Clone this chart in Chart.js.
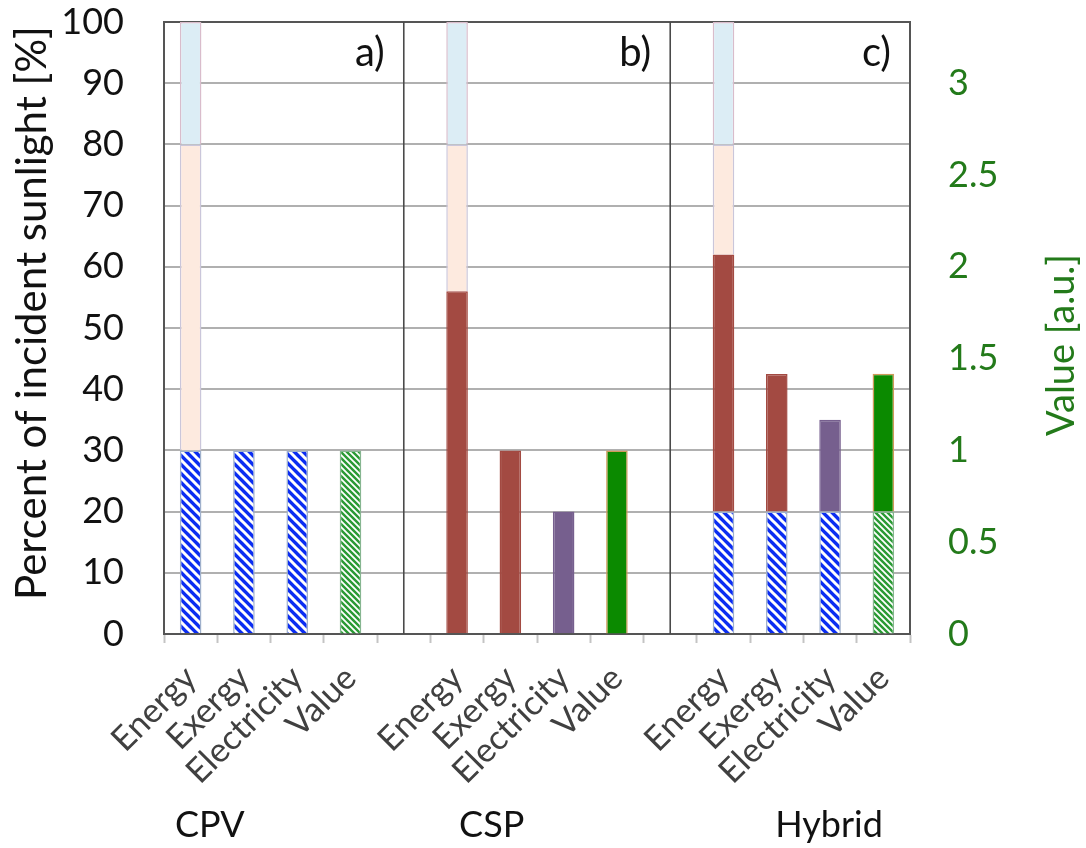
<!DOCTYPE html>
<html>
<head>
<meta charset="utf-8">
<script src="https://cdn.jsdelivr.net/npm/chart.js@4.4.0/dist/chart.umd.min.js"></script>
<style>
html,body{margin:0;padding:0;background:#fff;}
#wrap{width:1086px;height:848px;position:relative;}
</style>
</head>
<body>
<div id="wrap"><canvas id="c" width="1086" height="848"></canvas></div>
<script>
// ---------- data ----------
const categories = ['Energy','Exergy','Electricity','Value','',
                    'Energy','Exergy','Electricity','Value','',
                    'Energy','Exergy','Electricity','Value'];
const groupNames = ['CPV','CSP','Hybrid'];
const panelTags = ['a)','b)','c)'];
// percent of incident sunlight (left axis)
const pvShare       = [30,30,30,null,null, null,null,null,null,null, 20,20,20,null];
const thermalShare  = [null,null,null,null,null, 56,30,null,null,null, 42,22.5,null,null];
const electricShare = [null,null,null,null,null, null,null,20,null,null, null,null,15,null];
const lossShare     = [50,null,null,null,null, 24,null,null,null,null, 18,null,null,null];
const reflectShare  = [20,null,null,null,null, 20,null,null,null,null, 20,null,null,null];
// value (right axis, a.u.)
const valuePV       = [null,null,null,1,null, null,null,null,null,null, null,null,null,0.667];
const valueThermal  = [null,null,null,null,null, null,null,null,1,null, null,null,null,0.75];
const leftTicks = {min:0, max:100, step:10};
const rightTicks = {min:0, max:100/30, step:0.5};
const leftTitle = 'Percent of incident sunlight [%]';
const rightTitle = 'Value [a.u.]';

// ---------- styling ----------
const FONT = 'Lato, "Open Sans", sans-serif';
const GREEN_TXT = '#237a1a';
const mainCtx = document.getElementById('c').getContext('2d');
function hatch(bg, fg, size, w) {
  const t = document.createElement('canvas');
  t.width = size; t.height = size;
  const g = t.getContext('2d');
  g.fillStyle = bg; g.fillRect(0,0,size,size);
  g.strokeStyle = fg; g.lineWidth = w; g.lineCap = 'square';
  g.beginPath();
  for (const k of [-1,0,1]) { g.moveTo(k*size - 2, -2); g.lineTo(k*size + size + 2, size + 2); }
  g.stroke();
  return mainCtx.createPattern(t, 'repeat');
}
const blueHatch = hatch('#0b2df2', '#ffffff', 9, 3);
const greenHatch = hatch('#2a9a34', '#ffffff', 6, 1.8);

const annot = {
  id: 'annot',
  beforeDatasetsDraw(chart) {
    const {ctx, chartArea: a, scales: {x}} = chart;
    ctx.save();
    ctx.strokeStyle = '#4a4a4a'; ctx.lineWidth = 1.6;
    categories.forEach((c, i) => {
      if (c === '') {
        const px = x.getPixelForValue(i);
        ctx.beginPath(); ctx.moveTo(px, a.top); ctx.lineTo(px, a.bottom); ctx.stroke();
      }
    });
    ctx.restore();
  },
  afterDraw(chart) {
    const {ctx, chartArea: a, scales: {x}} = chart;
    ctx.save();
    const seps = [];
    categories.forEach((c, i) => { if (c === '') seps.push(x.getPixelForValue(i)); });
    const edges = [...seps, a.right];
    ctx.fillStyle = '#111';
    ctx.font = '40px ' + FONT;
    ctx.textAlign = 'right'; ctx.textBaseline = 'alphabetic';
    panelTags.forEach((t, i) => ctx.fillText(t, edges[i] - 19, a.top + 44));
    // group names
    const groupPos = [0.36, 5.65, 11.98];
    ctx.font = '36px ' + FONT;
    ctx.textAlign = 'center';
    groupNames.forEach((g, i) => ctx.fillText(g, x.getPixelForValue(groupPos[i]), chart.height - 11));
    // left axis title
    ctx.save();
    ctx.font = '42px ' + FONT;
    ctx.fillStyle = '#111';
    ctx.translate(32, (a.top + a.bottom) / 2 - 15);
    ctx.rotate(-Math.PI / 2);
    ctx.textAlign = 'center'; ctx.textBaseline = 'middle';
    ctx.fillText(leftTitle, 0, 0);
    ctx.restore();
    // right axis title, reading bottom to top
    ctx.fillStyle = GREEN_TXT;
    ctx.font = '38px ' + FONT;
    ctx.translate(a.right + 152, (a.top + a.bottom) / 2 + 17);
    ctx.rotate(-Math.PI / 2);
    ctx.textAlign = 'center'; ctx.textBaseline = 'middle';
    ctx.fillText(rightTitle, 0, 0);
    ctx.restore();
  }
};

const ds = (label, data, bg, border, axis) => ({
  label, data, backgroundColor: bg, borderColor: border, borderWidth: 1.5,
  yAxisID: axis, stack: 's'
});

new Chart(document.getElementById('c'), {
  type: 'bar',
  data: {
    labels: categories,
    datasets: [
      ds('PV', pvShare, blueHatch, '#9fb0cc', 'y'),
      ds('Thermal', thermalShare, '#a34a42', '#a34a42', 'y'),
      ds('Electricity', electricShare, '#765f8e', '#765f8e', 'y'),
      ds('Losses', lossShare, '#fdeadf', '#cac6da', 'y'),
      ds('Reflected', reflectShare, '#dcedf5', '#d9bccb', 'y'),
      ds('Value PV', valuePV, greenHatch, '#86b690', 'y2'),
      ds('Value thermal', valueThermal, '#0b8a00', '#cf9a5a', 'y2')
    ]
  },
  options: {
    responsive: false,
    animation: false,
    layout: { padding: { top: 22, left: 0, right: 0, bottom: 0 } },
    plugins: { legend: { display: false }, tooltip: { enabled: false } },
    datasets: { bar: { barPercentage: 1, categoryPercentage: 0.405 } },
    scales: {
      x: {
        stacked: true, offset: true,
        grid: { offset: true, drawOnChartArea: false, drawTicks: true, tickLength: 9, tickColor: '#c4c4c4', tickWidth: 2 },
        border: { display: true, color: '#555', width: 2 },
        ticks: { autoSkip: false, maxRotation: 45, minRotation: 45, padding: 15, color: '#404040', font: { family: FONT, size: 34 } },
        afterFit: s => { s.height = 214; s.paddingLeft = 0; s.paddingRight = 0; }
      },
      y: {
        stacked: true, position: 'left', min: leftTicks.min, max: leftTicks.max,
        ticks: { stepSize: leftTicks.step, padding: 40, color: '#111', font: { family: FONT, size: 36 } },
        grid: { drawTicks: false, lineWidth: 2, color: c => (c.tick && c.tick.value === leftTicks.max) ? '#555' : '#b0b0b0' },
        border: { color: '#555', width: 2 },
        afterFit: s => { s.width = 164; s.paddingTop = 0; s.paddingBottom = 0; }
      },
      y2: {
        stacked: true, position: 'right', min: rightTicks.min, max: rightTicks.max,
        ticks: { stepSize: rightTicks.step, includeBounds: false, padding: 38, color: GREEN_TXT, font: { family: FONT, size: 36 },
                 callback: v => String(+v.toFixed(2)) },
        grid: { drawOnChartArea: false, drawTicks: false },
        border: { color: '#555', width: 2 },
        afterFit: s => { s.width = 176; s.paddingTop = 0; s.paddingBottom = 0; }
      }
    }
  },
  plugins: [annot]
});
</script>
</body>
</html>
